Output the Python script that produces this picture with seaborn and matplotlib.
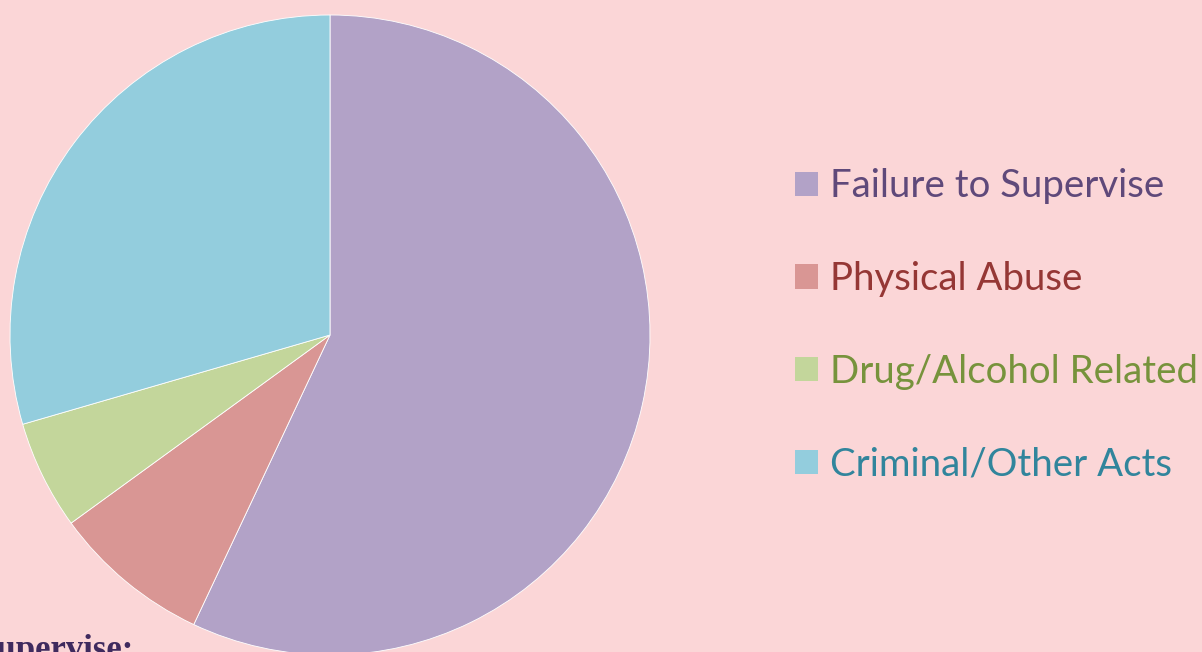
import matplotlib
matplotlib.use("Agg")
import matplotlib.pyplot as plt
import seaborn as sns

categories = ["Failure to Supervise", "Physical Abuse", "Drug/Alcohol Related", "Criminal/Other Acts"]
values = [57.0, 8.0, 5.5, 29.5]
slice_colors = ["#B2A2C7", "#D99694", "#C3D69B", "#93CDDD"]
text_colors = ["#5F497A", "#953735", "#77933C", "#31859C"]

sns.set_theme(style="white")
plt.rcParams['font.family'] = ['Lato', 'DejaVu Sans']

bg = "#FBD6D7"
fig = plt.figure(figsize=(12.02, 6.52), dpi=100, facecolor=bg)
W, H = 1202, 652
cx, cy, r = 330, 335, 320
ax = fig.add_axes([(cx - r) / W, (H - cy - r) / H, 2 * r / W, 2 * r / H])
ax.set_facecolor("none")
wedges, _ = ax.pie(values, colors=slice_colors, startangle=90, counterclock=False,
                   radius=1, wedgeprops=dict(linewidth=0.6, edgecolor="white"))
ax.set_xlim(-1, 1)
ax.set_ylim(-1, 1)
ax.set_aspect("equal")
ax.axis("off")

leg = fig.legend(wedges, categories, loc="upper left", bbox_to_anchor=(780 / W, 1 - 153 / H),
                 frameon=False, fontsize=27.6, handlelength=0.6, handleheight=0.6,
                 handletextpad=0.3, labelspacing=1.48, borderaxespad=0)
for t, c in zip(leg.get_texts(), text_colors):
    t.set_color(c)
for h in leg.legend_handles:
    h.set_edgecolor("none")

fig.text(-0.019, -7 / H, "Supervise:", fontsize=25, fontweight="bold", color="#3F2A5E",
         family=["Liberation Serif", "DejaVu Serif"], va="baseline", ha="left")

fig.savefig("out.png", dpi=100, facecolor=bg)
